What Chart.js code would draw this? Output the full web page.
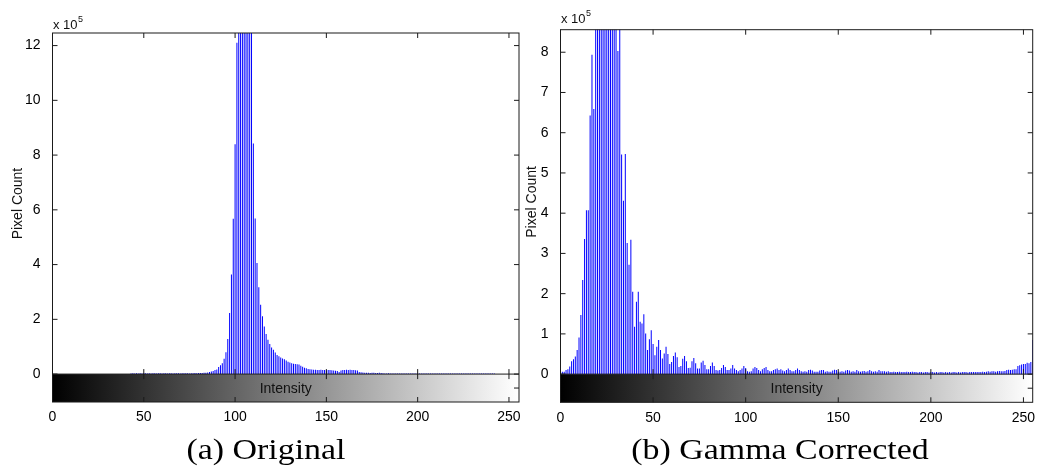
<!DOCTYPE html>
<html>
<head>
<meta charset="utf-8">
<script src="https://cdn.jsdelivr.net/npm/chart.js@4.4.1/dist/chart.umd.min.js"></script>
<style>
  body { margin: 0; background: #fff; }
  #wrap { position: relative; width: 1039px; height: 468px; overflow: hidden; }
  canvas { position: absolute; top: 0; }
  #original { left: 0; }
  #gamma { left: 520px; }
  .caption {
    position: absolute; top: 434px; margin: 0;
    font: 30px/30px "Liberation Serif", serif; color: #000; white-space: nowrap;
    transform: translateX(-50%) scaleX(1.13);
  }
</style>
</head>
<body>
<div id="wrap">
  <canvas id="original" width="540" height="468"></canvas>
  <canvas id="gamma" width="519" height="468"></canvas>
  <div class="caption" style="left:266px">(a) Original</div>
  <div class="caption" style="left:780px">(b) Gamma Corrected</div>
</div>
<script>
// pixel counts per intensity bin, in units of 1e5
const originalCounts = [
  0, 0, 0, 0, 0, 0, 0, 0, 0, 0, 0, 0, 0, 0, 0, 0,
  0, 0, 0, 0, 0, 0, 0, 0, 0, 0, 0, 0, 0, 0, 0, 0,
  0, 0, 0, 0, 0, 0, 0, 0, 0, 0, 0, 0.02, 0.03, 0.02, 0.03, 0.02,
  0.03, 0.02, 0.03, 0.03, 0.02, 0.03, 0.02, 0.03, 0.03, 0.02, 0.03, 0.03, 0.02, 0.03, 0.03, 0.02,
  0.03, 0.03, 0.02, 0.03, 0.03, 0.03, 0.02, 0.03, 0.03, 0.03, 0.03, 0.02, 0.03, 0.03, 0.04, 0.03,
  0.04, 0.04, 0.04, 0.05, 0.05, 0.06, 0.08, 0.09, 0.11, 0.15, 0.17, 0.26, 0.32, 0.40, 0.56, 0.80,
  1.28, 2.23, 3.64, 5.67, 8.40, 12.1, 15.5, 18.0, 19.5, 20.0, 19.0, 17.0, 15.0, 13.0, 8.42, 5.68,
  4.06, 3.17, 2.53, 2.11, 1.74, 1.46, 1.25, 1.10, 0.97, 0.89, 0.79, 0.70, 0.65, 0.61, 0.57, 0.54,
  0.50, 0.45, 0.42, 0.40, 0.38, 0.37, 0.36, 0.35, 0.30, 0.27, 0.23, 0.21, 0.19, 0.18, 0.17, 0.16,
  0.16, 0.15, 0.15, 0.16, 0.15, 0.15, 0.14, 0.15, 0.15, 0.14, 0.13, 0.12, 0.11, 0.08, 0.13, 0.15,
  0.15, 0.16, 0.15, 0.16, 0.15, 0.15, 0.14, 0.13, 0.08, 0.07, 0.06, 0.05, 0.05, 0.05, 0.04, 0.05,
  0.05, 0.04, 0.04, 0.05, 0.04, 0.03, 0.02, 0.02, 0.03, 0.02, 0.02, 0.02, 0.02, 0.02, 0.02, 0.02,
  0.02, 0.02, 0.02, 0.02, 0.02, 0.02, 0.02, 0.02, 0.02, 0.02, 0.02, 0.02, 0.02, 0.02, 0.02, 0.02,
  0.02, 0.02, 0.02, 0.02, 0.02, 0.02, 0.02, 0.02, 0.02, 0.02, 0.02, 0.02, 0.02, 0.02, 0.02, 0.02,
  0.02, 0.02, 0.02, 0.02, 0.02, 0.02, 0.02, 0.02, 0.02, 0.02, 0.02, 0.02, 0.02, 0.02, 0.02, 0.02,
  0.02, 0.02, 0.02, 0, 0, 0, 0, 0, 0, 0, 0, 0, 0, 0, 0, 0
];

const gammaCounts = [
  0.05, 0.06, 0.06, 0.10, 0.12, 0.19, 0.32, 0.37, 0.44, 0.60, 0.91, 1.47, 2.34, 3.36, 4.07, 4.07,
  6.43, 7.94, 6.59, 9.5, 11.0, 12.0, 13.0, 13.5, 13.5, 13.0, 12.5, 12.0, 11.0, 10.5, 9.5, 8.03,
  8.9, 5.46, 4.31, 5.47, 3.26, 2.72, 3.34, 2.05, 1.18, 1.80, 2.05, 1.30, 1.26, 1.49, 1.01, 0.60,
  0.87, 1.09, 0.75, 0.47, 0.68, 0.85, 0.60, 0.39, 0.51, 0.68, 0.50, 0.25, 0.30, 0.45, 0.54, 0.42,
  0.18, 0.20, 0.38, 0.45, 0.32, 0.15, 0.16, 0.32, 0.40, 0.27, 0.14, 0.14, 0.29, 0.33, 0.23, 0.12,
  0.12, 0.20, 0.29, 0.20, 0.10, 0.09, 0.10, 0.15, 0.23, 0.18, 0.10, 0.10, 0.14, 0.23, 0.14, 0.10,
  0.07, 0.10, 0.14, 0.20, 0.15, 0.07, 0.06, 0.07, 0.14, 0.18, 0.15, 0.10, 0.07, 0.12, 0.15, 0.18,
  0.10, 0.07, 0.07, 0.10, 0.12, 0.14, 0.10, 0.12, 0.09, 0.07, 0.10, 0.14, 0.10, 0.07, 0.07, 0.10,
  0.14, 0.10, 0.07, 0.06, 0.07, 0.06, 0.10, 0.11, 0.09, 0.06, 0.06, 0.06, 0.09, 0.10, 0.10, 0.06,
  0.07, 0.06, 0.06, 0.09, 0.11, 0.10, 0.06, 0.06, 0.07, 0.06, 0.09, 0.10, 0.09, 0.06, 0.07, 0.06,
  0.10, 0.07, 0.06, 0.07, 0.08, 0.06, 0.07, 0.10, 0.07, 0.06, 0.07, 0.06, 0.10, 0.07, 0.07, 0.07,
  0.06, 0.07, 0.05, 0.05, 0.06, 0.05, 0.05, 0.06, 0.05, 0.05, 0.05, 0.06, 0.05, 0.05, 0.06, 0.05,
  0.05, 0.04, 0.05, 0.05, 0.04, 0.05, 0.05, 0.04, 0.05, 0.05, 0.04, 0.05, 0.04, 0.05, 0.05, 0.04,
  0.05, 0.04, 0.05, 0.04, 0.05, 0.05, 0.04, 0.05, 0.04, 0.05, 0.05, 0.05, 0.04, 0.05, 0.05, 0.05,
  0.05, 0.05, 0.05, 0.05, 0.06, 0.05, 0.06, 0.07, 0.06, 0.07, 0.07, 0.06, 0.07, 0.08, 0.07, 0.07,
  0.08, 0.10, 0.11, 0.10, 0.11, 0.12, 0.12, 0.20, 0.22, 0.24, 0.25, 0.25, 0.28, 0.27, 0.30, 0.85
];

const intensityTicks = [0, 50, 100, 150, 200, 250];
const originalCountTicks = [0, 2, 4, 6, 8, 10, 12];
const gammaCountTicks = [0, 1, 2, 3, 4, 5, 6, 7, 8];

Chart.defaults.font.family = "'Liberation Sans', Arial, sans-serif";
Chart.defaults.font.size = 14;
Chart.defaults.color = "#000";

// box, inward tick marks, grey colour strip under the zero line, labels
const axesDecor = {
  id: "axesDecor",
  beforeDatasetsDraw(chart) {
    const { ctx, chartArea: a, scales: { x, y } } = chart;
    const zero = y.getPixelForValue(0);
    const grad = ctx.createLinearGradient(x.getPixelForValue(0), 0, x.getPixelForValue(255), 0);
    grad.addColorStop(0, "#000");
    grad.addColorStop(1, "#fff");
    ctx.save();
    ctx.fillStyle = grad;
    ctx.fillRect(a.left, zero, a.right - a.left, a.bottom - zero);
    ctx.restore();
  },
  afterDatasetsDraw(chart, args, o) {
    const { ctx, chartArea: a, scales: { x, y } } = chart;
    const zero = y.getPixelForValue(0);
    const tick = 5;
    ctx.save();
    ctx.strokeStyle = "#1a1a1a";
    ctx.lineWidth = 1;
    ctx.strokeRect(a.left, a.top, a.right - a.left, a.bottom - a.top);
    ctx.beginPath();
    ctx.moveTo(a.left, zero);
    ctx.lineTo(a.right, zero);
    intensityTicks.forEach((v) => {
      const px = x.getPixelForValue(v);
      ctx.moveTo(px, a.top); ctx.lineTo(px, a.top + tick);
      ctx.moveTo(px, zero - tick); ctx.lineTo(px, zero + tick);
      ctx.moveTo(px, a.bottom); ctx.lineTo(px, a.bottom - tick);
    });
    o.yTicks.forEach((v) => {
      const py = y.getPixelForValue(v);
      ctx.moveTo(a.left, py); ctx.lineTo(a.left + tick, py);
      ctx.moveTo(a.right, py); ctx.lineTo(a.right - tick, py);
    });
    const mid = (zero + a.bottom) / 2;
    ctx.moveTo(a.right, mid); ctx.lineTo(a.right - tick, mid);
    ctx.stroke();

    ctx.fillStyle = "#111";
    ctx.font = "14px 'Liberation Sans', Arial, sans-serif";
    ctx.textAlign = "center";
    ctx.textBaseline = "middle";
    ctx.fillText("Intensity", (a.left + a.right) / 2, mid + 1);

    ctx.save();
    ctx.translate(o.titleX, (a.top + zero) / 2);
    ctx.rotate(-Math.PI / 2);
    ctx.fillText("Pixel Count", 0, 0);
    ctx.restore();

    ctx.textAlign = "left";
    ctx.textBaseline = "alphabetic";
    ctx.font = "13px 'Liberation Sans', Arial, sans-serif";
    const base = "x 10";
    ctx.fillText(base, a.left + 0.5, o.expBaseline);
    const w = ctx.measureText(base).width;
    ctx.font = "9px 'Liberation Sans', Arial, sans-serif";
    ctx.fillText("5", a.left + 1 + w, o.expBaseline - 7);
    ctx.restore();
  }
};

function drawHistogram(id, counts, yTicks, view) {
  return new Chart(document.getElementById(id), {
    type: "bar",
    data: {
      datasets: [{
        data: counts.map((v, i) => ({ x: i, y: v })),
        backgroundColor: "#0000ff",
        barThickness: 1,
        inflateAmount: 0,
        clip: 0
      }]
    },
    plugins: [axesDecor],
    options: {
      responsive: false,
      animation: false,
      layout: { padding: view.padding },
      plugins: {
        legend: { display: false },
        tooltip: { enabled: false },
        axesDecor: { yTicks: yTicks, titleX: view.titleX, expBaseline: view.expBaseline }
      },
      scales: {
        x: {
          type: "linear",
          min: 0,
          max: view.xMax,
          offset: false,
          grid: { display: false },
          border: { display: false },
          afterBuildTicks: (s) => { s.ticks = intensityTicks.map((v) => ({ value: v })); },
          afterFit: (s) => { s.height = 30; },
          ticks: { padding: -1, maxRotation: 0, autoSkip: false, callback: (v) => String(v) }
        },
        y: {
          min: view.yMin,
          max: view.yMax,
          grid: { display: false },
          border: { display: false },
          afterBuildTicks: (s) => { s.ticks = yTicks.map((v) => ({ value: v })); },
          afterFit: (s) => { s.width = view.axisLeft; },
          ticks: { padding: 4, callback: (v) => String(v) }
        }
      }
    }
  });
}

drawHistogram("original", originalCounts, originalCountTicks, {
  xMax: 255.5, yMin: -1.02, yMax: 12.46, axisLeft: 52.5,
  padding: { left: 0, top: 33, right: 21, bottom: 36 },
  titleX: 18, expBaseline: 29
});

drawHistogram("gamma", gammaCounts, gammaCountTicks, {
  xMax: 255, yMin: -0.70, yMax: 8.56, axisLeft: 40.5,
  padding: { left: 0, top: 29.7, right: 6.3, bottom: 35.7 },
  titleX: 12.5, expBaseline: 22.5
});
</script>
</body>
</html>
